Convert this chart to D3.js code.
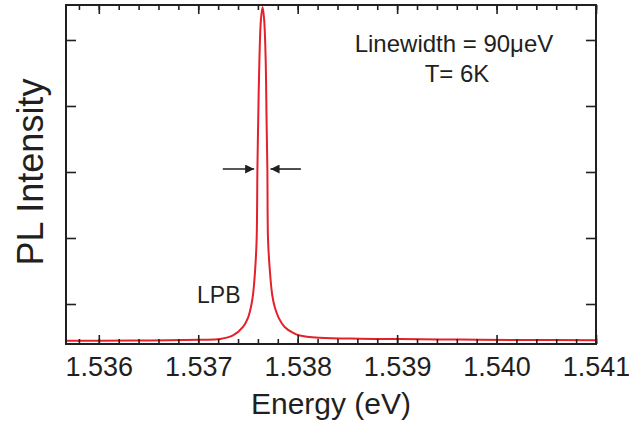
<!DOCTYPE html>
<html>
<head>
<meta charset="utf-8">
<script src="https://cdn.jsdelivr.net/npm/d3@7"></script>
<style>
  html, body { margin: 0; padding: 0; background: #fff; }
  svg { display: block; }
  text { font-family: "Liberation Sans", Arial, Helvetica, sans-serif; fill: #231f20; }
</style>
</head>
<body>
<svg id="chart" width="629" height="428"></svg>
<script>
// ---- data ----
const energy = [1.535668, 1.53601, 1.53651, 1.53702, 1.53722, 1.53735, 1.53745, 1.53750, 1.53753,
  1.53755, 1.53757, 1.537587, 1.537595, 1.537603, 1.537615, 1.53763, 1.537647, 1.537663,
  1.537678, 1.537687, 1.537695, 1.537702, 1.537722, 1.537744, 1.537769, 1.537809, 1.537869,
  1.53795, 1.53802, 1.53822, 1.53863, 1.53903, 1.53963, 1.54024, 1.541];
const intensity = [0.444, 0.445, 0.448, 0.459, 0.47, 0.523, 0.652, 0.79, 0.955,
  1.136, 1.47, 1.97, 3.045, 3.79, 4.70, 5.30, 5.50, 5.30,
  4.70, 3.79, 3.045, 1.97, 1.47, 1.136, 0.955, 0.79, 0.652,
  0.566, 0.523, 0.489, 0.474, 0.468, 0.461, 0.455, 0.45];
const xTicks = [1.536, 1.537, 1.538, 1.539, 1.540, 1.541];
const xTickLabels = ["1.536", "1.537", "1.538", "1.539", "1.540", "1.541"];
const xMinorTicks = d3.range(0, 27).map(i => +(1.5358 + i * 0.0002).toFixed(4));
const yTicks = [1, 2, 3, 4, 5];
const xDomain = [1.53567, 1.541];
const yDomain = [0.394, 5.53];
// FWHM arrows: [fromE, toE, level]
const arrows = [[1.537247, 1.537562, 3.045], [1.538032, 1.537727, 3.045]];
const labels = {
  x: "Energy (eV)", y: "PL Intensity", peak: "LPB",
  line1: "Linewidth = 90\u03BCeV", line2: "T= 6K"
};

// ---- layout ----
const L = 66, R = 596, T = 5, B = 344;
const svg = d3.select("#chart");
const x = d3.scaleLinear().domain(xDomain).range([L, R]);
const y = d3.scaleLinear().domain(yDomain).range([B, T]);

svg.append("defs").append("marker")
  .attr("id", "ah").attr("viewBox", "0 0 10 10").attr("refX", 10).attr("refY", 5)
  .attr("markerWidth", 13).attr("markerHeight", 9).attr("markerUnits", "userSpaceOnUse")
  .attr("orient", "auto")
  .append("path").attr("d", "M0,0 L10,5 L0,10 Z").attr("fill", "#231f20");

// curve
const pts = energy.map((e, i) => [e, intensity[i]]);
svg.append("path")
  .datum(pts)
  .attr("fill", "none")
  .attr("stroke", "#e4202a")
  .attr("stroke-width", 2)
  .attr("stroke-linejoin", "round")
  .attr("d", d3.line().x(d => x(d[0])).y(d => y(d[1])).curve(d3.curveCatmullRom.alpha(0.5)));

// axes
function styleAxis(g) {
  g.select(".domain").remove();
  g.selectAll(".tick line").attr("stroke", "#231f20").attr("stroke-width", 1.6);
}
svg.append("g").attr("transform", `translate(0,${B})`)
  .call(d3.axisBottom(x).tickValues(xMinorTicks).tickSize(-5).tickFormat(""))
  .call(styleAxis);
svg.append("g").attr("transform", `translate(0,${T})`)
  .call(d3.axisTop(x).tickValues(xMinorTicks).tickSize(-5).tickFormat(""))
  .call(styleAxis);
const bx = svg.append("g").attr("transform", `translate(0,${B})`)
  .call(d3.axisBottom(x).tickValues(xTicks).tickSize(-9).tickPadding(13)
    .tickFormat((d, i) => xTickLabels[i]))
  .call(styleAxis);
bx.selectAll("text").attr("font-size", 27).attr("fill", "#231f20")
  .style("font-family", '"Liberation Sans", Arial, sans-serif');
svg.append("g").attr("transform", `translate(0,${T})`)
  .call(d3.axisTop(x).tickValues(xTicks).tickSize(-9).tickFormat(""))
  .call(styleAxis);
svg.append("g").attr("transform", `translate(${L},0)`)
  .call(d3.axisLeft(y).tickValues(yTicks).tickSize(-10).tickFormat(""))
  .call(styleAxis);
svg.append("g").attr("transform", `translate(${R},0)`)
  .call(d3.axisRight(y).tickValues(yTicks).tickSize(-10).tickFormat(""))
  .call(styleAxis);

// frame
svg.append("rect").attr("x", L).attr("y", T).attr("width", R - L).attr("height", B - T)
  .attr("fill", "none").attr("stroke", "#231f20").attr("stroke-width", 2);

// arrows
arrows.forEach(a => {
  svg.append("line")
    .attr("x1", x(a[0])).attr("x2", x(a[1]))
    .attr("y1", y(a[2])).attr("y2", y(a[2]))
    .attr("stroke", "#231f20").attr("stroke-width", 1.6)
    .attr("marker-end", "url(#ah)");
});

// texts
svg.append("text").attr("x", 331).attr("y", 414).attr("text-anchor", "middle")
  .attr("font-size", 30).text(labels.x);
svg.append("text").attr("transform", "translate(43,172) rotate(-90)")
  .attr("text-anchor", "middle").attr("font-size", 36).text(labels.y);
svg.append("text").attr("x", 197).attr("y", 303).attr("font-size", 23).text(labels.peak);
svg.append("text").attr("x", 454).attr("y", 52).attr("text-anchor", "middle")
  .attr("font-size", 24).text(labels.line1);
svg.append("text").attr("x", 457).attr("y", 82).attr("text-anchor", "middle")
  .attr("font-size", 24).text(labels.line2);
</script>
</body>
</html>
